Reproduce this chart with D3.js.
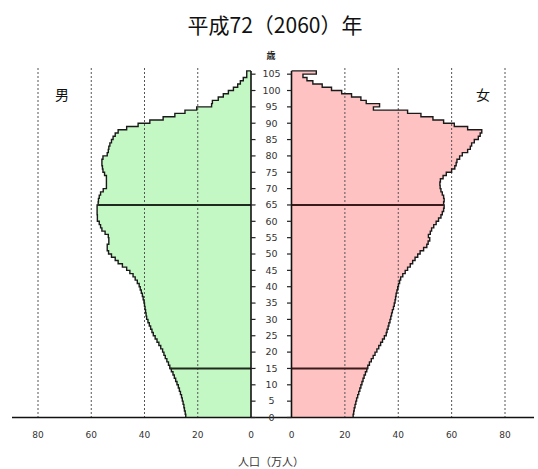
<!DOCTYPE html>
<html>
<head>
<meta charset="utf-8">
<script src="https://cdn.jsdelivr.net/npm/d3@7"></script>
<style>
  body { margin: 0; background: #fff; }
  text { font-family: "DejaVu Sans", sans-serif; }
</style>
</head>
<body>
<script>
// population by single year of age (0..104, last entry = 105+), 万人
var male = [
  24.5, 24.7, 25.0, 25.2, 25.5, 25.8, 26.1, 26.5, 26.9, 27.3,
  27.8, 28.3, 28.8, 29.3, 29.9, 30.5, 31.0, 31.6, 32.2, 32.7,
  33.2, 33.9, 34.6, 35.3, 36.0, 36.7, 37.2, 37.7, 38.2, 38.7,
  39.2, 39.4, 39.6, 39.8, 40.0, 40.2, 40.5, 40.8, 41.2, 41.6,
  42.0, 42.7, 43.5, 44.3, 45.5, 46.7, 48.3, 49.9, 51.0, 52.4,
  53.5, 54.0, 54.0, 53.4, 53.4, 53.6, 54.8, 56.0, 56.5, 57.0,
  57.7, 57.7, 57.8, 57.8, 57.8, 57.4, 57.3, 57.0, 56.5, 55.5,
  54.3, 54.3, 54.3, 54.3, 55.0, 55.6, 55.8, 56.0, 56.0, 55.6,
  54.0, 53.6, 53.4, 53.0, 52.4, 51.8, 51.0, 49.9, 46.7, 42.4,
  38.0, 33.0, 28.6, 24.8, 20.4, 14.8, 14.5, 12.3, 10.4, 8.5,
  6.6, 5.0, 4.0, 2.9, 1.6, 1.6
];
var female = [
  23.1, 23.3, 23.5, 23.8, 24.1, 24.4, 24.8, 25.2, 25.6, 26.0,
  26.4, 26.8, 27.2, 27.7, 28.2, 28.6, 29.2, 29.9, 30.6, 31.3,
  32.0, 32.7, 33.4, 34.1, 34.8, 35.5, 35.8, 36.2, 36.5, 36.9,
  37.2, 37.5, 37.8, 38.2, 38.5, 38.8, 39.0, 39.2, 39.5, 39.8,
  40.1, 40.5, 40.9, 41.7, 42.6, 43.5, 44.5, 45.4, 46.3, 47.3,
  48.2, 49.5, 50.7, 51.2, 51.8, 51.3, 52.0, 52.5, 53.3, 54.2,
  55.1, 56.0, 56.5, 57.0, 57.2, 57.0, 57.2, 57.0, 56.5, 56.0,
  55.7, 55.6, 55.8, 56.8, 58.0, 60.0, 61.2, 61.7, 62.0, 63.0,
  64.0, 66.0, 67.0, 67.5, 68.5, 70.0, 70.7, 71.3, 66.0, 61.0,
  57.0, 53.0, 48.5, 43.5, 30.7, 33.0, 28.0, 26.0, 22.5, 18.8,
  15.0, 11.5, 8.0, 5.8, 4.3, 9.3
];
var ageTicks = [0, 5, 10, 15, 20, 25, 30, 35, 40, 45, 50, 55, 60, 65, 70, 75, 80, 85, 90, 95, 100, 105];
var popTicks = [0, 20, 40, 60, 80];
var markAges = [15, 65];   // horizontal divider lines

var W = 538, H = 469;
var svg = d3.select("body").append("svg")
    .attr("width", W).attr("height", H);

var xL = d3.scaleLinear().domain([0, 80]).range([251, 38]);
var xR = d3.scaleLinear().domain([0, 80]).range([291.5, 505]);
var y = d3.scaleLinear().domain([0, 106]).range([417.5, 70.9]);

// title
svg.append("text")
    .attr("x", 275).attr("y", 33)
    .attr("text-anchor", "middle")
    .style("font-family", "'Noto Sans CJK JP', sans-serif")
    .style("font-size", "21px")
    .style("font-weight", "400")
    .attr("fill", "#111")
    .text("平成72（2060）年");

// builds a stepped outline for one side
function stepPoints(vals) {
  var pts = [];
  vals.forEach(function(v, a) {
    pts.push([v, a]);
    pts.push([v, a + 1]);
  });
  return pts;
}

function drawSide(vals, x, fill) {
  var pts = stepPoints(vals);
  var poly = [[0, 0]].concat(pts, [[0, vals.length]]);
  var line = d3.line()
      .x(function(d) { return x(d[0]); })
      .y(function(d) { return y(d[1]); });

  svg.append("path")
      .attr("d", line(poly) + "Z")
      .attr("fill", fill);

  return line;
}

var lineL = drawSide(male, xL, "#c3f7c3");
var lineR = drawSide(female, xR, "#ffc2c2");

// dashed grid lines
var grid = svg.append("g")
    .attr("stroke", "#555")
    .attr("stroke-width", 1)
    .attr("stroke-dasharray", "2,2");
popTicks.slice(1).forEach(function(t) {
  grid.append("line")
      .attr("x1", xL(t)).attr("x2", xL(t))
      .attr("y1", 68).attr("y2", y(0));
  grid.append("line")
      .attr("x1", xR(t)).attr("x2", xR(t))
      .attr("y1", 68).attr("y2", y(0));
});

// outlines of the pyramid
[[male, xL, lineL], [female, xR, lineR]].forEach(function(s) {
  var pts = stepPoints(s[0]).concat([[0, s[0].length]]);
  svg.append("path")
      .attr("d", s[2](pts))
      .attr("fill", "none")
      .attr("stroke", "#1a1a1a")
      .attr("stroke-width", 1.4);
});

// 15 / 65 dividers
markAges.forEach(function(a) {
  svg.append("line")
      .attr("x1", xL(0)).attr("x2", xL(male[a]))
      .attr("y1", y(a)).attr("y2", y(a))
      .attr("stroke", "#1f2a1f").attr("stroke-width", 2);
  svg.append("line")
      .attr("x1", xR(0)).attr("x2", xR(female[a]))
      .attr("y1", y(a)).attr("y2", y(a))
      .attr("stroke", "#3a1a1a").attr("stroke-width", 2);
});

// vertical axes at zero
[xL(0), xR(0)].forEach(function(xx) {
  svg.append("line")
      .attr("x1", xx).attr("x2", xx)
      .attr("y1", y(106)).attr("y2", y(0))
      .attr("stroke", "#111").attr("stroke-width", 1.6);
});

// base line
svg.append("line")
    .attr("x1", 12).attr("x2", 534)
    .attr("y1", y(0)).attr("y2", y(0))
    .attr("stroke", "#111").attr("stroke-width", 1.6);

// age ticks and labels between the two halves
var ag = svg.append("g");
ageTicks.forEach(function(a) {
  ag.append("line")
      .attr("x1", xL(0)).attr("x2", xL(0) + 4.5)
      .attr("y1", y(a)).attr("y2", y(a))
      .attr("stroke", "#222").attr("stroke-width", 1.2);
  ag.append("line")
      .attr("x1", xR(0) - 4.5).attr("x2", xR(0))
      .attr("y1", y(a)).attr("y2", y(a))
      .attr("stroke", "#222").attr("stroke-width", 1.2);
  ag.append("text")
      .attr("x", 271.5).attr("y", y(a))
      .attr("dy", "0.35em")
      .attr("text-anchor", "middle")
      .style("font-size", "9.5px")
      .attr("fill", "#333")
      .text(a);
});

svg.append("text")
    .attr("x", 271).attr("y", 59)
    .attr("text-anchor", "middle")
    .style("font-family", "'Noto Sans CJK JP', sans-serif")
    .style("font-size", "9px")
    .style("font-weight", "bold")
    .attr("fill", "#222")
    .text("歳");

// population tick labels
popTicks.forEach(function(t) {
  [xL, xR].forEach(function(x) {
    svg.append("text")
        .attr("x", x(t)).attr("y", 438)
        .attr("text-anchor", "middle")
        .style("font-size", "9px")
        .attr("fill", "#333")
        .text(t);
  });
});

svg.append("text")
    .attr("x", 271).attr("y", 466)
    .attr("text-anchor", "middle")
    .style("font-family", "'Noto Sans CJK JP', sans-serif")
    .style("font-size", "11px")
    .attr("fill", "#333")
    .text("人口（万人）");

svg.append("text")
    .attr("x", 62).attr("y", 100)
    .attr("text-anchor", "middle")
    .style("font-family", "'Noto Sans CJK JP', sans-serif")
    .style("font-size", "14px")
    .attr("fill", "#111")
    .text("男");

svg.append("text")
    .attr("x", 483).attr("y", 100)
    .attr("text-anchor", "middle")
    .style("font-family", "'Noto Sans CJK JP', sans-serif")
    .style("font-size", "14px")
    .attr("fill", "#111")
    .text("女");
</script>
</body>
</html>
